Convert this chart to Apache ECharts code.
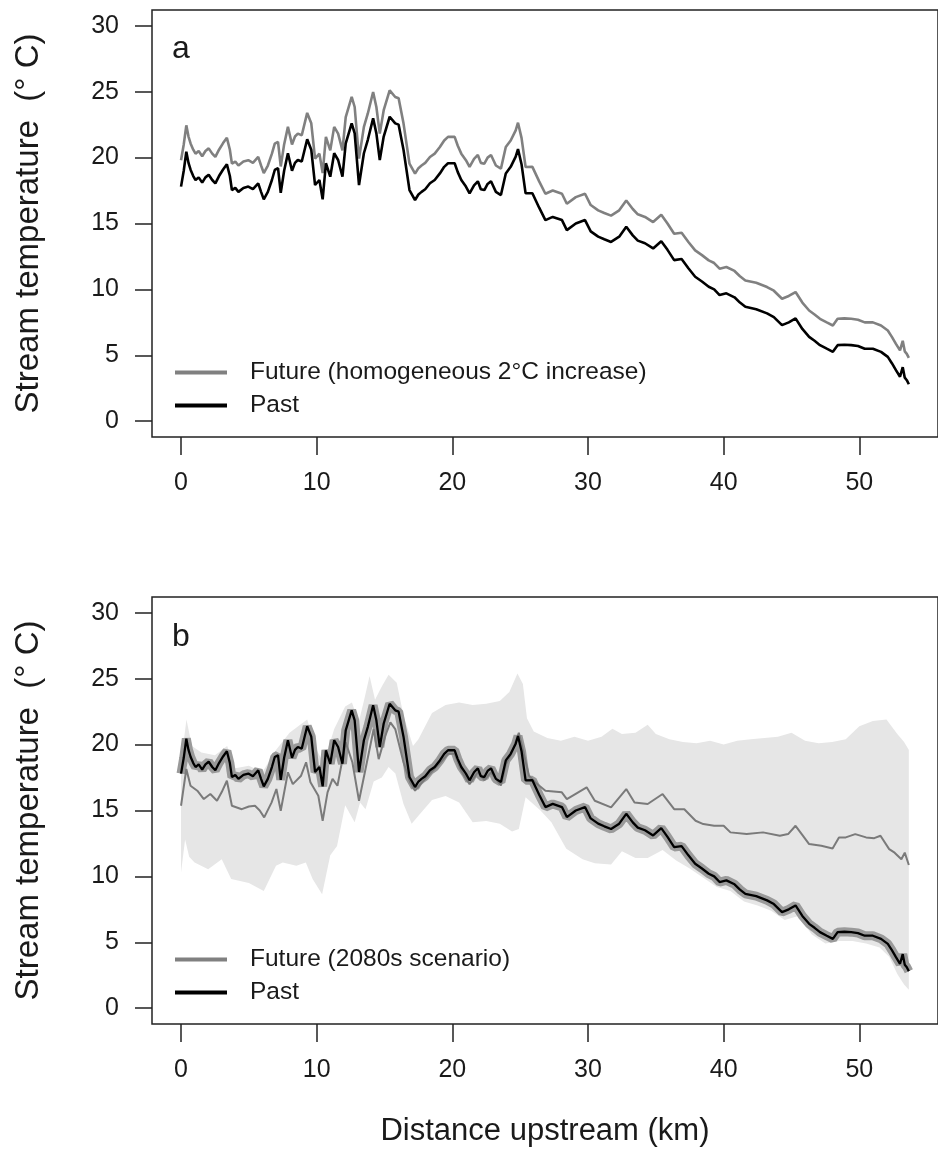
<!DOCTYPE html>
<html><head><meta charset="utf-8">
<script src="https://cdn.jsdelivr.net/npm/echarts@6/dist/echarts.min.js"></script>
<style>html,body{margin:0;padding:0;background:#fff}#c{width:938px;height:1155px}</style>
</head><body><div id="c"></div>
<script>
const xTicks = [0, 10, 20, 30, 40, 50];
const yTicks = [0, 5, 10, 15, 20, 25, 30];

const pastKm = [0.0,0.2,0.39,0.55,0.71,0.9,1.07,1.3,1.56,1.8,2.04,2.3,2.53,2.8,3.1,3.38,3.6,3.75,4.0,4.23,4.6,4.96,5.3,5.69,5.9,6.1,6.4,6.7,6.91,7.15,7.35,7.6,7.88,8.18,8.4,8.61,8.9,9.3,9.6,9.88,10.2,10.44,10.68,11.0,11.29,11.58,11.9,12.14,12.58,12.8,13.12,13.48,13.77,14.16,14.4,14.65,14.94,15.38,15.79,16.04,16.4,16.84,17.25,17.5,17.73,18.0,18.35,18.7,19.08,19.4,19.68,20.17,20.4,20.66,21.0,21.27,21.6,21.88,22.1,22.36,22.6,22.85,23.21,23.58,23.94,24.3,24.67,24.84,25.1,25.4,25.9,26.4,26.86,27.4,28.08,28.44,29.1,29.78,30.2,30.75,31.2,31.7,32.3,32.82,33.3,33.67,34.2,34.8,35.4,35.86,36.35,36.9,37.4,37.9,38.4,38.9,39.3,39.7,40.2,40.8,41.2,41.6,42.4,43.2,43.7,44.3,44.8,45.3,45.8,46.3,46.7,47.1,47.6,48.05,48.4,48.9,49.4,49.9,50.4,51.0,51.6,52.1,52.4,52.7,53.0,53.2,53.35,53.5,53.65];
const pastTemp = [17.8,19.0,20.45,19.6,19.06,18.6,18.3,18.5,18.1,18.5,18.7,18.3,18.05,18.6,19.1,19.5,18.6,17.54,17.7,17.4,17.7,17.8,17.6,18.05,17.4,16.83,17.4,18.3,19.06,19.2,17.33,19.0,20.33,19.0,19.6,19.82,19.7,21.39,20.6,17.92,18.3,16.83,19.57,18.55,20.33,19.82,18.55,21.08,22.6,21.84,17.92,20.33,21.35,22.98,21.84,19.82,21.6,23.1,22.6,22.5,20.6,17.54,16.78,17.2,17.4,17.6,18.05,18.3,18.8,19.3,19.57,19.57,18.9,18.3,17.8,17.29,17.9,18.2,17.6,17.54,18.0,18.2,17.4,17.16,18.8,19.3,20.07,20.65,19.5,17.29,17.3,16.2,15.26,15.5,15.26,14.5,15.0,15.26,14.4,14.0,13.8,13.6,14.0,14.75,14.1,13.7,13.5,13.11,13.66,13.0,12.22,12.3,11.6,10.96,10.6,10.2,10.0,9.57,9.7,9.4,9.0,8.68,8.5,8.18,7.9,7.29,7.5,7.8,7.0,6.4,6.1,5.77,5.5,5.26,5.77,5.8,5.77,5.7,5.5,5.5,5.26,4.88,4.4,3.87,3.37,4.1,3.3,3.11,2.8];
const futureATemp = [19.8,21.0,22.45,21.6,21.06,20.6,20.3,20.5,20.1,20.5,20.7,20.3,20.05,20.6,21.1,21.5,20.6,19.54,19.7,19.4,19.7,19.8,19.6,20.05,19.4,18.83,19.4,20.3,21.06,21.2,19.33,21.0,22.33,21.0,21.6,21.82,21.7,23.39,22.6,19.92,20.3,18.83,21.57,20.55,22.33,21.82,20.55,23.08,24.6,23.84,19.92,22.33,23.35,24.98,23.84,21.82,23.6,25.1,24.6,24.5,22.6,19.54,18.78,19.2,19.4,19.6,20.05,20.3,20.8,21.3,21.57,21.57,20.9,20.3,19.8,19.29,19.9,20.2,19.6,19.54,20.0,20.2,19.4,19.16,20.8,21.3,22.07,22.65,21.5,19.29,19.3,18.2,17.26,17.5,17.26,16.5,17.0,17.26,16.4,16.0,15.8,15.6,16.0,16.75,16.1,15.7,15.5,15.11,15.66,15.0,14.22,14.3,13.6,12.96,12.6,12.2,12.0,11.57,11.7,11.4,11.0,10.68,10.5,10.18,9.9,9.29,9.5,9.8,9.0,8.4,8.1,7.77,7.5,7.26,7.77,7.8,7.77,7.7,7.5,7.5,7.26,6.88,6.4,5.87,5.37,6.1,5.3,5.11,4.8];

const futureBKm = [0.0,0.39,0.7,1.2,1.68,2.16,2.65,3.0,3.38,3.75,4.48,5.0,5.45,5.8,6.13,6.67,7.03,7.35,7.88,8.24,8.85,9.22,9.54,10.12,10.44,10.8,11.17,11.53,12.14,12.63,13.12,13.6,14.2,14.57,15.06,15.43,15.79,16.4,16.89,17.25,17.73,18.35,19.08,19.68,20.17,20.66,21.27,21.88,22.36,22.85,23.58,23.94,24.4,24.9,25.65,26.1,26.86,28.07,28.44,29.9,30.5,31.7,32.82,33.43,34.4,35.5,36.35,37.1,37.93,38.5,39.3,40.0,40.5,41.7,42.9,44.14,44.75,45.3,45.85,46.3,47.2,48.03,48.5,49.0,49.7,50.5,51.1,51.56,52.2,52.6,53.1,53.35,53.65];
const futureBTemp = [15.36,18.15,16.88,16.5,15.87,16.25,15.74,16.4,17.26,15.36,15.1,15.3,15.36,15.0,14.48,15.6,16.63,14.98,17.9,17.0,17.64,18.66,17.14,16.12,14.22,16.38,17.4,16.88,20.17,18.66,15.74,18.15,21.18,18.9,20.67,21.69,21.18,18.66,17.14,16.5,17.1,17.8,18.6,19.3,19.3,18.0,17.0,17.9,17.3,17.9,16.9,18.5,19.4,20.9,17.64,17.14,16.5,16.38,15.87,16.76,15.74,15.24,16.63,15.6,15.49,16.25,15.1,15.1,14.22,13.97,13.84,13.84,13.34,13.21,13.34,13.08,13.21,13.84,13.08,12.45,12.32,12.12,12.96,12.96,13.21,12.96,12.9,13.08,12.07,11.8,11.3,11.8,10.86];

const bandUpKm = [0,0.4,0.8,1.5,2.5,3.4,4.0,5.0,6.0,7.0,8.0,9.3,10.0,10.5,11.3,12.1,12.6,13.1,13.5,13.9,14.3,14.8,15.3,15.9,16.4,17.1,17.5,18.5,19.5,20.5,21.5,22.5,23.5,24.2,24.8,25.2,25.5,26.0,27,28,29,30,31,31.8,32.5,33.5,34.4,35,36,37,38,39,40,41,42,43,44,45,46,47,48,49,50,51,52,52.8,53.3,53.65];
const bandUpTemp = [18.6,21.9,19.9,19.4,19.2,19.9,18.2,18.4,17.9,19.6,20.9,21.9,19.6,18.6,21.2,22.9,23.2,21.7,23.4,25.2,23.4,24.4,25.3,24.7,22.2,19.9,20.4,22.4,23.0,23.2,23.0,23.1,23.3,24.0,25.4,24.6,22.0,21.0,20.5,20.3,20.6,20.3,20.6,21.2,20.8,20.9,21.5,20.8,20.4,20.2,20.1,20.3,20.0,20.3,20.4,20.5,20.6,20.9,20.3,20.1,20.2,20.4,21.4,21.8,21.9,20.8,20.2,19.6];
const bandLoKm = [0,0.3,0.6,1.0,2.0,3.0,3.7,5.0,6.1,7.0,7.5,8.5,9.2,9.7,10.4,11.0,11.5,12.1,12.8,13.2,13.6,14.2,14.8,15.3,15.8,16.4,17.0,17.5,18.5,19.5,20.5,21.5,22.5,23.5,24.4,24.9,25.4,26.5,27.3,28.4,29.6,30.5,31.7,32.5,33.5,34.4,35.5,36.5,37.5,38.5,39.5,40.5,41.5,42.5,43.5,44.5,45.5,46.5,47.5,48.5,49.5,50.5,51.5,52.2,52.8,53.3,53.65];
const bandLoTemp = [10.3,12.8,11.5,11.06,10.55,11.3,9.8,9.5,8.9,10.8,11.05,10.8,11.05,9.8,8.65,11.6,12.3,15.4,14.1,15.6,15.1,17.2,17.5,18.3,17.8,15.5,14.0,14.6,15.8,16.1,15.6,14.1,14.2,14.0,13.4,13.6,16.0,15.0,14.1,12.1,11.3,11.0,10.9,11.9,11.4,11.4,12.0,11.2,10.6,9.9,9.2,8.9,8.1,7.8,7.4,6.7,7.0,5.6,4.9,5.1,5.1,4.9,4.6,3.9,2.6,1.8,1.4];

const zip = (a, b) => a.map((v, i) => [v, b[i]]);
const FONT = 'Liberation Sans, Arial, Helvetica, sans-serif';
const INK = '#1a1a1a';

function xAxis(gi, withName) {
  const ax = {
    type: 'value', gridIndex: gi, min: -2.14, max: 55.8,
    axisLine: { show: false, onZero: false },
    axisTick: { show: true, inside: false, length: 18, customValues: xTicks, lineStyle: { color: '#222', width: 1.5 } },
    axisLabel: { customValues: xTicks, fontSize: 25, color: INK, margin: 34, fontFamily: FONT },
    splitLine: { show: false }
  };
  if (withName) {
    ax.name = 'Distance upstream (km)';
    ax.nameLocation = 'middle';
    ax.nameGap = 92;
    ax.nameTextStyle = { fontSize: 31, color: INK, fontFamily: FONT };
  }
  return ax;
}
function yAxis(gi) {
  return {
    type: 'value', gridIndex: gi, min: -1.2, max: 31.2,
    axisLine: { show: false, onZero: false },
    axisTick: { show: true, inside: false, length: 17, customValues: yTicks, lineStyle: { color: '#222', width: 1.5 } },
    axisLabel: { customValues: yTicks, fontSize: 25, color: INK, margin: 33, fontFamily: FONT },
    splitLine: { show: false },
    name: 'Stream temperature  (° C)', nameLocation: 'middle', nameRotate: 90, nameGap: 107,
    nameTextStyle: { fontSize: 33, color: INK, fontFamily: FONT }
  };
}
function legend(top, names) {
  return {
    orient: 'vertical', left: 175, top: top, padding: 0, itemGap: 8,
    itemWidth: 52, itemHeight: 4, icon: 'rect', selectedMode: false,
    textStyle: { fontSize: 24.5, color: INK, fontFamily: FONT, padding: [0, 0, 0, 18] },
    data: names
  };
}

const chart = echarts.init(document.getElementById('c'), null, { renderer: 'canvas' });
chart.setOption({
  animation: false,
  backgroundColor: '#fff',
  grid: [
    { left: 152, top: 10, width: 794, height: 427, show: true, borderColor: '#222', borderWidth: 1.5 },
    { left: 152, top: 597, width: 794, height: 427, show: true, borderColor: '#222', borderWidth: 1.5 }
  ],
  xAxis: [xAxis(0, false), xAxis(1, true)],
  yAxis: [yAxis(0), yAxis(1)],
  legend: [
    legend(360, [
      { name: 'Future (homogeneous 2°C increase)', itemStyle: { color: '#808080' } },
      { name: 'Past', itemStyle: { color: '#000' } }
    ]),
    legend(947, [
      { name: 'Future (2080s scenario)', itemStyle: { color: '#808080' } },
      { name: 'Past', itemStyle: { color: '#000' } }
    ])
  ],
  graphic: [
    { type: 'text', left: 172, top: 33, style: { text: 'a', fontSize: 32, fill: INK, fontFamily: FONT } },
    { type: 'text', left: 172, top: 621, style: { text: 'b', fontSize: 32, fill: INK, fontFamily: FONT } }
  ],
  series: [
    { name: 'Future (homogeneous 2°C increase)', type: 'line', xAxisIndex: 0, yAxisIndex: 0,
      data: zip(pastKm, futureATemp), showSymbol: false, symbol: 'none',
      lineStyle: { color: '#808080', width: 2.6 }, itemStyle: { color: '#808080' }, z: 3 },
    { name: 'Past', type: 'line', xAxisIndex: 0, yAxisIndex: 0,
      data: zip(pastKm, pastTemp), showSymbol: false, symbol: 'none',
      lineStyle: { color: '#000', width: 2.6 }, itemStyle: { color: '#000' }, z: 4 },
    { name: 'Future range', type: 'custom', xAxisIndex: 1, yAxisIndex: 1,
      data: zip(bandUpKm, bandUpTemp), z: 1,
      renderItem: function (params, api) {
        if (params.dataIndex !== 0) return null;
        const pts = [];
        for (let i = 0; i < bandUpKm.length; i++) pts.push(api.coord([bandUpKm[i], bandUpTemp[i]]));
        for (let i = bandLoKm.length - 1; i >= 0; i--) pts.push(api.coord([bandLoKm[i], bandLoTemp[i]]));
        return { type: 'polygon', shape: { points: pts }, style: { fill: '#e6e6e6' } };
      } },
    { name: 'Past range', type: 'line', xAxisIndex: 1, yAxisIndex: 1,
      data: zip(pastKm, pastTemp), showSymbol: false, symbol: 'none',
      lineStyle: { color: '#9a9a9a', width: 9 }, itemStyle: { color: '#9a9a9a' }, z: 2 },
    { name: 'Future (2080s scenario)', type: 'line', xAxisIndex: 1, yAxisIndex: 1,
      data: zip(futureBKm, futureBTemp), showSymbol: false, symbol: 'none',
      lineStyle: { color: '#7a7a7a', width: 2 }, itemStyle: { color: '#808080' }, z: 3 },
    { name: 'Past', type: 'line', xAxisIndex: 1, yAxisIndex: 1,
      data: zip(pastKm, pastTemp), showSymbol: false, symbol: 'none',
      lineStyle: { color: '#000', width: 2.3 }, itemStyle: { color: '#000' }, z: 4 }
  ]
});
</script></body></html>
